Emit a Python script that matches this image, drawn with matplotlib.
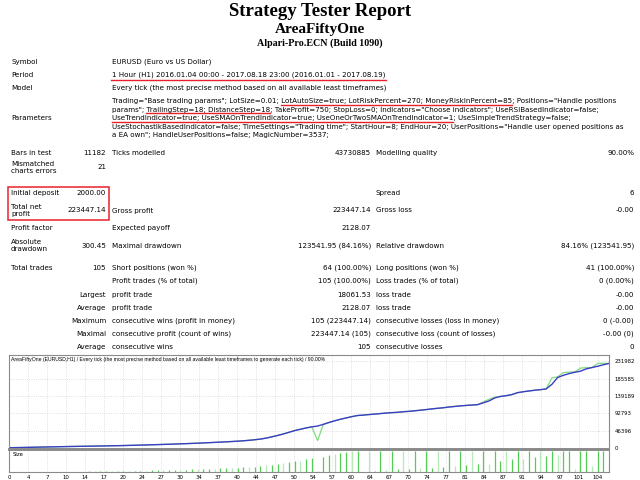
import matplotlib
matplotlib.use('Agg')
import matplotlib.pyplot as plt
from matplotlib.patches import Rectangle
import numpy as np

W, H = 640, 480

report_title = 'Strategy Tester Report'
expert_name = 'AreaFiftyOne'
server_name = 'Alpari-Pro.ECN (Build 1090)'

symbol = 'EURUSD (Euro vs US Dollar)'
period = '1 Hour (H1) 2016.01.04 00:00 - 2017.08.18 23:00 (2016.01.01 - 2017.08.19)'
model = 'Every tick (the most precise method based on all available least timeframes)'
param_lines = [
    'Trading="Base trading params"; LotSize=0.01; LotAutoSize=true; LotRiskPercent=270; MoneyRiskInPercent=85; Positions="Handle positions',
    'params"; TrailingStep=18; DistanceStep=18; TakeProfit=750; StopLoss=0; Indicators="Choose indicators"; UseRSIBasedIndicator=false;',
    'UseTrendIndicator=true; UseSMAOnTrendIndicator=true; UseOneOrTwoSMAOnTrendIndicator=1; UseSimpleTrendStrategy=false;',
    'UseStochastikBasedIndicator=false; TimeSettings="Trading time"; StartHour=8; EndHour=20; UserPositions="Handle user opened positions as',
    'a EA own"; HandleUserPositions=false; MagicNumber=3537;',
]
marked_params = [
    (0, 'LotAutoSize=true; LotRiskPercent=270; MoneyRiskInPercent=85'),
    (1, 'TrailingStep=18; DistanceStep=18'),
    (2, 'UseTrendIndicator=true; UseSMAOnTrendIndicator=true; UseOneOrTwoSMAOnTrendIndicator=1'),
]

# label1, value1, label2, value2, label3, value3
stats_rows = [
    ('Bars in test', '11182', 'Ticks modelled', '43730885', 'Modelling quality', '90.00%'),
    ('Mismatched\ncharts errors', '21', '', '', '', ''),
    ('Initial deposit', '2000.00', '', '', 'Spread', '6'),
    ('Total net\nprofit', '223447.14', 'Gross profit', '223447.14', 'Gross loss', '-0.00'),
    ('Profit factor', '', 'Expected payoff', '2128.07', '', ''),
    ('Absolute\ndrawdown', '300.45', 'Maximal drawdown', '123541.95 (84.16%)', 'Relative drawdown', '84.16% (123541.95)'),
    ('Total trades', '105', 'Short positions (won %)', '64 (100.00%)', 'Long positions (won %)', '41 (100.00%)'),
    ('', '', 'Profit trades (% of total)', '105 (100.00%)', 'Loss trades (% of total)', '0 (0.00%)'),
    ('', 'Largest', 'profit trade', '18061.53', 'loss trade', '-0.00'),
    ('', 'Average', 'profit trade', '2128.07', 'loss trade', '-0.00'),
    ('', 'Maximum', 'consecutive wins (profit in money)', '105 (223447.14)', 'consecutive losses (loss in money)', '0 (-0.00)'),
    ('', 'Maximal', 'consecutive profit (count of wins)', '223447.14 (105)', 'consecutive loss (count of losses)', '-0.00 (0)'),
    ('', 'Average', 'consecutive wins', '105', 'consecutive losses', '0'),
]

chart_header = ('AreaFiftyOne (EURUSD,H1) / Every tick (the most precise method based on all '
                'available least timeframes to generate each tick) / 90.00%')

balance = [2000, 2300, 2600, 2900, 3250, 3600, 3900, 4200, 4500, 4800,
           5100, 5400, 5650, 5900, 6150, 6400, 6650, 6900, 7200, 7500,
           7800, 8200, 8600, 9000, 9450, 9900, 10350, 10800, 11300, 11800,
           12350, 12900, 13500, 14100, 14800, 15500, 16200, 16900, 17700, 18500,
           19400, 20400, 21700, 23200, 25000, 27500, 31000, 34500, 38500, 43000,
           47500, 51000, 54500, 57500, 59500, 64000, 69000, 73500, 77500, 81000,
           84500, 87500, 88500, 90000, 91200, 92600, 94000, 95000, 96000, 97500,
           98500, 100000, 101500, 103200, 105000, 106600, 108000, 110000, 111500, 113000,
           114200, 115200, 116200, 121000, 126000, 134000, 138000, 140000, 143000, 148000,
           150500, 152500, 154500, 156000, 158000, 170000, 188061.53, 194000, 198500, 202000,
           205000, 211000, 214500, 218000, 222000, 225447.14]

equity = [2000, 2300, 2600, 2900, 3250, 3600, 3900, 4200, 4500, 4800,
          5100, 5400, 5650, 5900, 6150, 6400, 6650, 6900, 7200, 7500,
          7800, 8200, 8600, 9000, 9450, 9900, 10350, 10800, 11300, 11800,
          12350, 12900, 13500, 14100, 14800, 15500, 16200, 16900, 17700, 18500,
          19400, 20400, 21700, 23200, 25000, 27500, 31000, 34500, 38500, 43000,
          47500, 51000, 54500, 57500, 21000, 64000, 69000, 73500, 77500, 81000,
          84500, 87500, 88500, 90000, 91200, 92600, 94000, 95000, 96000, 97500,
          98500, 100000, 101500, 103200, 105000, 106600, 108000, 110000, 111500, 113000,
          114200, 115200, 116200, 123500, 130500, 136000, 138000, 140000, 143000, 148000,
          150500, 152500, 154500, 156000, 158000, 187000, 190000, 201000, 202500, 203000,
          213000, 214500, 214500, 225500, 226000, 225447.14]

lots = [0.5, 0.5, 0.6, 0.6, 0.7, 0.7, 0.8, 0.8, 0.9, 0.9,
        1.0, 1.0, 1.1, 1.2, 1.3, 1.4, 1.5, 1.7, 1.9, 2.0,
        2.2, 2.5, 2.8, 3.2, 3.6, 4.0, 4.0, 4.4, 4.7, 5.1,
        5.5, 6.0, 6.3, 7.0, 7.4, 7.8, 8.6, 9.4, 10.0, 10.4,
        10.9, 11.7, 12.5, 14.1, 15.6, 17.2, 18.8, 20.3, 22.7, 25.0,
        26.6, 29.7, 32.0, 2.3, 35.9, 39.1, 41.4, 43.8, 46.1, 48.4,
        49.2, 0.0, 50.0, 2.3, 50.0, 4.3, 50.0, 6.6, 50.0, 7.8,
        50.0, 9.5, 50.0, 10.2, 50.0, 12.5, 50.0, 15.0, 50.0, 16.5,
        50.0, 18.0, 50.0, 19.0, 50.0, 26.0, 50.0, 31.0, 50.0, 30.5,
        50.0, 36.0, 50.0, 37.5, 50.0, 40.0, 50.0, 50.0, 7.0, 50.0,
        50.0, 14.0, 50.0, 50.0, 24.0]

y_ticks = [0, 46396, 92793, 139189, 185585, 231982]
x_tick_labels = ['0', '4', '7', '10', '14', '17', '20', '24', '27', '30', '34', '37', '40', '44', '47', '50',
                 '54', '57', '60', '64', '67', '70', '74', '77', '81', '84', '87', '91', '94', '97', '101', '104']

plt.rcParams['font.family'] = ['DejaVu Sans']
fig = plt.figure(figsize=(W / 100, H / 100), dpi=100)
renderer = fig.canvas.get_renderer()
FS = 5.1
RED = '#e8202a'


def put(x, y, s, ha='left', size=FS, **kw):
    return fig.text(x / W, 1 - y / H, s, ha=ha, va='center', fontsize=size,
                    linespacing=1.1, **kw)


def text_width(s, size=FS):
    t = fig.text(0, 0, s, fontsize=size)
    w = t.get_window_extent(renderer).width
    t.remove()
    return w


def red_line(x0, x1, y):
    fig.add_artist(plt.Line2D([x0 / W, x1 / W], [1 - y / H, 1 - y / H], color=RED, lw=1.0))


# headings
serif = ['Liberation Serif', 'DejaVu Serif']
put(320, 12, report_title, ha='center', size=13.5, weight='bold', family=serif)
put(320, 29, expert_name, ha='center', size=11, weight='bold', family=serif)
put(320, 43, server_name, ha='center', size=7.2, weight='bold', family=serif)

# symbol / period / model / parameters
C1, V1, C2, V2, C3, V3 = 11, 106, 111.5, 371, 376, 634
put(C1, 62, 'Symbol')
put(C2, 62, symbol)
put(C1, 75, 'Period')
put(C2, 75, period)
red_line(C2 - 1, C2 + text_width(period) + 1, 79.5)
put(C1, 88, 'Model')
put(C2, 88, model)
put(C1, 118, 'Parameters')
for i, line in enumerate(param_lines):
    put(C2, 101 + 8.6 * i, line)
for i, part in marked_params:
    line = param_lines[i]
    prefix = line[:line.index(part)]
    end = text_width(prefix + part)
    start = end - text_width(part)
    red_line(C2 + start, C2 + end, 101 + 8.6 * i + 3.5)

# statistics table
row_y = [153, 167.5, 193, 210.5, 228, 245.5, 268, 281, 295, 308, 321, 334, 347]
for y, (l1, v1, l2, v2, l3, v3) in zip(row_y, stats_rows):
    put(C1, y, l1)
    put(V1, y, v1, ha='right')
    put(C2, y, l2)
    put(V2, y, v2, ha='right')
    put(C3, y, l3)
    put(V3, y, v3, ha='right')

fig.add_artist(Rectangle((7.5 / W, 1 - 220 / H), 101 / W, 33 / H, fill=False,
                         edgecolor=RED, lw=1.1, transform=fig.transFigure))

# equity chart
left, right, top, sep, bottom = 9, 609, 355, 448.5, 472
ax = fig.add_axes([left / W, 1 - sep / H, (right - left) / W, (sep - top) / H])
axs = fig.add_axes([left / W, 1 - bottom / H, (right - left) / W, (bottom - sep - 1) / H])

trades = np.arange(len(balance))
x_ticks = np.arange(len(x_tick_labels)) * 3.325
ax.plot(trades, equity, color='#7fdc7f', lw=0.9)
ax.plot(trades, balance, color='#3c3cc6', lw=1.0)
ax.set_xlim(0, 105)
ax.set_ylim(0, 231982 * (sep - top) / (sep - 361))
ax.set_yticks(y_ticks)
ax.set_yticklabels([str(v) for v in y_ticks])
ax.yaxis.tick_right()
ax.set_xticks(x_ticks)
ax.tick_params(axis='x', length=0, labelbottom=False)
ax.tick_params(axis='y', length=0, pad=4, labelsize=3.9)
ax.grid(color='#d6d6d6', linestyle=':', lw=0.6)
ax.text(0.003, 0.955, chart_header, transform=ax.transAxes, fontsize=3.7,
        family='Liberation Sans', va='center')

bar_x = trades[1:]
bar_colors = ['#b6eab6' if i % 3 == 0 else '#55cc55' for i in bar_x]
axs.vlines(bar_x, 0, lots, colors=bar_colors, lw=0.9)
axs.set_xlim(0, 105)
axs.set_ylim(0, 50 * (bottom - sep - 1) / (bottom - 450.7))
axs.set_yticks([])
axs.set_xticks(x_ticks)
axs.set_xticklabels(x_tick_labels)
axs.tick_params(axis='x', length=0, pad=2, labelsize=3.9)
axs.grid(axis='x', color='#d6d6d6', linestyle=':', lw=0.6)
axs.text(0.006, 0.78, 'Size', transform=axs.transAxes, fontsize=3.8, va='center')

for a in (ax, axs):
    for s in a.spines.values():
        s.set_color('#8a8a8a')
        s.set_linewidth(0.8)
ax.spines['bottom'].set_linewidth(1.4)
axs.spines['top'].set_linewidth(1.4)

fig.savefig('out.png', dpi=100)
